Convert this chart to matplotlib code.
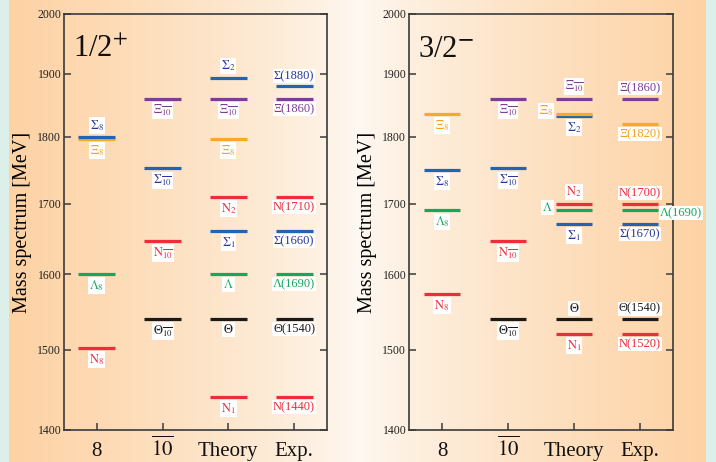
#!/usr/bin/env python3
"""
Pentaquark / baryon mass spectra for 1/2+ and 3/2- : octet, anti-decuplet,
mixed theory levels and experimental states. Saves out.png.
"""
import numpy as np
import matplotlib.pyplot as plt
from matplotlib.ticker import NullLocator, FixedLocator, FixedFormatter

plt.rcParams["font.family"] = "serif"
plt.rcParams["font.serif"] = ["Liberation Serif", "DejaVu Serif"]
plt.rcParams["mathtext.fontset"] = "stix"

categories = ["8", r"$\overline{10}$", "Theory", "Exp."]
yticks = [1400, 1500, 1600, 1700, 1800, 1900, 2000]

# ---- 1/2+ panel ----
p1_col = [0, 0, 0, 0,
          1, 1, 1, 1,
          2, 2, 2, 2, 2, 2, 2, 2,
          3, 3, 3, 3, 3, 3, 3]
p1_mass = [1797, 1800, 1600, 1502,
           1860, 1752, 1646, 1540,
           1894, 1860, 1797, 1710, 1660, 1600, 1540, 1440,
           1880, 1860, 1710, 1660, 1600, 1540, 1440]
p1_name = [r"$\Xi_8$", r"$\Sigma_8$", r"$\Lambda_8$", r"$\mathrm{N}_8$",
           r"$\Xi_{\overline{10}}$", r"$\Sigma_{\overline{10}}$",
           r"$\mathrm{N}_{\overline{10}}$", r"$\Theta_{\overline{10}}$",
           r"$\Sigma_2$", r"$\Xi_{\overline{10}}$", r"$\Xi_8$", r"$\mathrm{N}_2$",
           r"$\Sigma_1$", r"$\Lambda$", r"$\Theta$", r"$\mathrm{N}_1$",
           "Σ(1880)", "Ξ(1860)", "N(1710)", "Σ(1660)", "Λ(1690)",
           "Θ(1540)", "N(1440)"]
p1_kind = ["Xi8", "Sig", "Lam", "N",
           "Xi10", "Sig", "N", "Th",
           "Sig", "Xi10", "Xi8", "N", "Sig", "Lam", "Th", "N",
           "Sig", "Xi10", "N", "Sig", "Lam", "Th", "N"]
p1_place = ["below", "above", "below", "below",
            "below", "below", "below", "below",
            "above", "below", "below", "below", "below", "below", "below", "below",
            "above", "below", "below", "below", "below", "below", "below"]

# ---- 3/2- panel ----
p2_col = [0, 0, 0, 0,
          1, 1, 1, 1,
          2, 2, 2, 2, 2, 2, 2, 2,
          3, 3, 3, 3, 3, 3, 3]
p2_mass = [1836, 1750, 1690, 1573,
           1860, 1752, 1646, 1540,
           1860, 1833, 1836, 1700, 1690, 1670, 1540, 1520,
           1860, 1820, 1700, 1690, 1670, 1540, 1520]
p2_name = [r"$\Xi_8$", r"$\Sigma_8$", r"$\Lambda_8$", r"$\mathrm{N}_8$",
           r"$\Xi_{\overline{10}}$", r"$\Sigma_{\overline{10}}$",
           r"$\mathrm{N}_{\overline{10}}$", r"$\Theta_{\overline{10}}$",
           r"$\Xi_{\overline{10}}$", r"$\Sigma_2$", r"$\Xi_8$", r"$\mathrm{N}_2$",
           r"$\Lambda$", r"$\Sigma_1$", r"$\Theta$", r"$\mathrm{N}_1$",
           "Ξ(1860)", "Ξ(1820)", "N(1700)", "Λ(1690)", "Σ(1670)",
           "Θ(1540)", "N(1520)"]
p2_kind = ["Xi8", "Sig", "Lam", "N",
           "Xi10", "Sig", "N", "Th",
           "Xi10", "Sig", "Xi8", "N", "Lam", "Sig", "Th", "N",
           "Xi10", "Xi8", "N", "Lam", "Sig", "Th", "N"]
p2_place = ["below", "below", "below", "below",
            "below", "below", "below", "below",
            "above", "below", "left", "above", "left", "below", "above", "below",
            "above", "below", "above", "right", "below", "above", "below"]

line_color = {"Sig": "#2164b4", "Xi10": "#7d3c98", "Xi8": "#f7aa2a",
              "N": "#ec2d3a", "Lam": "#14a85a", "Th": "#1a1a1a"}
text_color = {"Sig": "#27379a", "Xi10": "#7d3c98", "Xi8": "#f2a21c",
              "N": "#ec2d3a", "Lam": "#14a85a", "Th": "#1a1a1a"}

W, H = 716, 462
fig = plt.figure(figsize=(W / 100, H / 100), dpi=100)

# background gradient: orange at outer sides fading to near white in the middle
bg = fig.add_axes([0, 0, 1, 1], zorder=-10)
bg.set_axis_off()
x = np.arange(W)
orange = np.array([253, 211, 166]) / 255
white = np.array([254, 249, 243]) / 255
teal = np.array([220, 239, 233]) / 255
t = np.clip(np.abs(x - 358) / 340.0, 0, 1) ** 0.75
row = white[None, :] + (orange - white)[None, :] * t[:, None]
row[(x < 9) | (x > 705)] = teal
img = np.repeat(row[None, :, :], H, axis=0)
bg.imshow(img, aspect="auto", extent=[0, 1, 0, 1])
bg.set_xlim(0, 1)
bg.set_ylim(0, 1)

panels = [
    ([64 / W, 32 / H, 263 / W, 416 / H], r"1/2$^{+}$",
     p1_col, p1_mass, p1_name, p1_kind, p1_place),
    ([409 / W, 32 / H, 264 / W, 416 / H], r"3/2$^{\mathbf{-}}$",
     p2_col, p2_mass, p2_name, p2_kind, p2_place),
]

hw = 0.28
for rect, title, cols, mass, names, kinds, places in panels:
    ax = fig.add_axes(rect)
    ax.patch.set_alpha(0)
    ax.set_yscale("log")
    ax.set_ylim(1400, 2000)
    ax.set_xlim(-0.5, 3.5)
    ax.yaxis.set_major_locator(FixedLocator(yticks))
    ax.yaxis.set_major_formatter(FixedFormatter([str(v) for v in yticks]))
    ax.yaxis.set_minor_locator(NullLocator())
    ax.set_xticks(range(len(categories)))
    # the overlined label is drawn separately so its digits line up with the others
    ax.set_xticklabels([c if "overline" not in c else "" for c in categories],
                       fontsize=15)
    for i, c in enumerate(categories):
        if "overline" in c:
            ax.annotate(c, xy=(i, 0), xycoords=("data", "axes fraction"),
                        xytext=(0, -4.6), textcoords="offset points",
                        ha="center", va="top", fontsize=15, color="#111111")
    ax.tick_params(axis="y", direction="in", length=5, width=1.1, left=True,
                   right=True, labelsize=8.5, pad=2, colors="#3a3a3a",
                   labelcolor="#222222")
    ax.tick_params(axis="x", direction="in", length=5, width=1.1, top=False,
                   pad=8.5, colors="#3a3a3a", labelcolor="#111111")
    for sp in ax.spines.values():
        sp.set_color("#3a3a3a")
        sp.set_linewidth(1.2)
    ax.set_ylabel("Mass spectrum [MeV]", fontsize=14.5, labelpad=4)
    ax.text(0.035, 0.915, title, transform=ax.transAxes, fontsize=22,
            va="center", ha="left", color="#111111")

    for c, m, name, k, pl in zip(cols, mass, names, kinds, places):
        ax.plot([c - hw, c + hw], [m, m], color=line_color[k], lw=2.3,
                solid_capstyle="butt", zorder=3)
        if pl == "above":
            xy, off, ha, va = (c, m), (0, 3), "center", "bottom"
        elif pl == "below":
            xy, off, ha, va = (c, m), (0, -3), "center", "top"
        elif pl == "left":
            xy, off, ha, va = (c - hw, m), (-2, 2), "right", "center"
        else:
            xy, off, ha, va = (c + hw, m), (1, -2), "left", "center"
        ax.annotate(name, xy=xy, xytext=off, textcoords="offset points",
                    ha=ha, va=va, fontsize=9, color=text_color[k], zorder=4,
                    annotation_clip=False,
                    bbox=dict(boxstyle="square,pad=0.08", fc="white", ec="none"))

fig.savefig("out.png", dpi=100)
